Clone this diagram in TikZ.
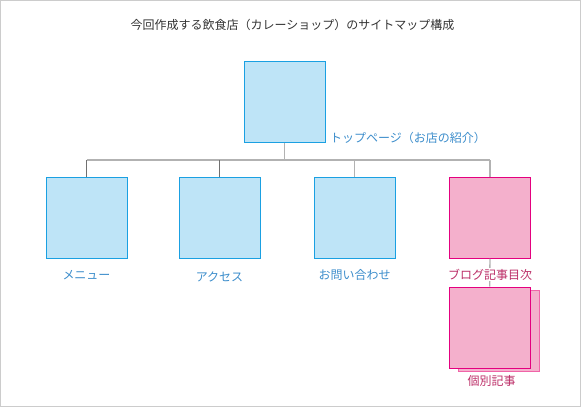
\documentclass[tikz,border=0pt]{standalone}
\usepackage{fontspec}
\setmainfont{Noto Sans CJK JP}
\begin{document}
\begin{tikzpicture}[x=1pt,y=-1pt,
  boxblue/.style={draw=cyanstroke,fill=bluefill,line width=1pt,minimum width=81pt,minimum height=81pt,inner sep=0pt},
  boxpink/.style={draw=pinkstroke,fill=pinkfill,line width=1pt,minimum width=81pt,minimum height=81pt,inner sep=0pt},
  boxpinkback/.style={draw=pinkback,fill=pinkfill,line width=1pt,minimum width=81pt,minimum height=81pt,inner sep=0pt},
  lblblue/.style={text=bluetext,font=\fontsize{12}{14}\selectfont,inner sep=1pt},
  lblpink/.style={text=pinktext,font=\fontsize{12}{14}\selectfont,inner sep=1pt,fill=white},
  conn/.style={draw=linegray,line width=1.4pt},
  connthin/.style={draw=linedark,line width=0.9pt}
]
\definecolor{cyanstroke}{HTML}{1AA0E2}
\definecolor{bluefill}{HTML}{BEE4F7}
\definecolor{pinkstroke}{HTML}{E4007F}
\definecolor{pinkback}{HTML}{F064A8}
\definecolor{pinkfill}{HTML}{F4B0CC}
\definecolor{bluetext}{HTML}{3C8DCB}
\definecolor{pinktext}{HTML}{BC2F68}
\definecolor{titletext}{HTML}{333333}
\definecolor{linegray}{HTML}{B2B2B2}
\definecolor{linedark}{HTML}{707070}
\definecolor{framegray}{HTML}{CCCCCC}

\useasboundingbox (0,0) rectangle (582,407);
\draw[framegray,line width=1pt] (0.5,0.5) rectangle (580.7,406.3);

\node[text=titletext,font=\fontsize{12}{14}\selectfont] (title) at (292.5,25) {今回作成する飲食店（カレーショップ）のサイトマップ構成};

\node[boxblue] (top) at (284.75,101.5) {};
\node[lblblue,anchor=west] (toplbl) at (329,137.5) {トップページ（お店の紹介）};

\node[boxblue] (m1) at (86.5,217.75) {};
\node[boxblue] (m2) at (219.5,217.75) {};
\node[boxblue] (m3) at (354.5,217.75) {};
\node[boxpink] (m4) at (490,217.75) {};

\coordinate (bus) at (284.75,160);
\coordinate (busl) at (86.5,160);
\coordinate (busr) at (490,160);

\draw[conn] (top.south) -- (bus);
\draw[conn] (busl) -- (busr);
\draw[connthin] (m1.north |- bus) -- (m1.north);
\draw[connthin] (m2.north |- bus) -- (m2.north);
\draw[conn] (m3.north |- bus) -- (m3.north);
\draw[conn] (m4.north |- bus) -- (m4.north);

\node[boxpinkback] (back) at (499.25,331.2) {};
\node[boxpink] (art) at (489.75,327.5) {};
\draw[conn] (m4.south) -- (art.north);

\node[lblblue] (l1) at (86.5,275) {メニュー};
\node[lblblue] (l2) at (219.5,276.5) {アクセス};
\node[lblblue] (l3) at (354.5,275) {お問い合わせ};
\node[lblpink] (l4) at (490,274.5) {ブログ記事目次};
\node[lblpink,fill=none] (l5) at (491.5,381) {個別記事};
\end{tikzpicture}
\end{document}
